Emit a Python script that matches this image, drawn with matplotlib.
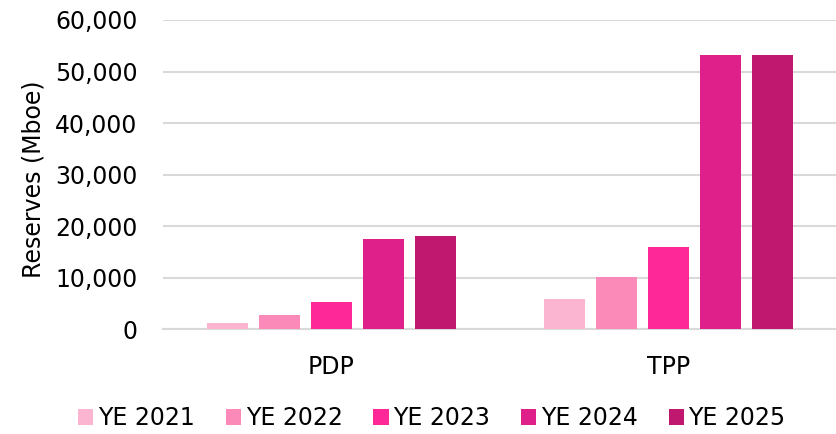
import numpy as np
import matplotlib
matplotlib.use('Agg')
import matplotlib.pyplot as plt

# dane
kategorie = ['PDP', 'TPP']
serie = ['YE 2021', 'YE 2022', 'YE 2023', 'YE 2024', 'YE 2025']
pdp = [1220, 2780, 5300, 17600, 18130]
tpp = [5890, 10160, 15930, 53200, 53250]
kolory = ['#FBB5D0', '#FC8AB8', '#FE2898', '#E0208A', '#C0186F']

plt.rcParams['font.family'] = 'DejaVu Sans'
plt.rcParams['font.size'] = 17

fig = plt.figure(figsize=(8.37, 4.34), dpi=100)
ax = fig.add_axes([0.1947, 0.2412, 0.8053, 0.7128])

x = np.arange(len(kategorie))
szer = 0.1215
krok = 0.154
for i, (nazwa, kolor) in enumerate(zip(serie, kolory)):
    wart = [pdp[i], tpp[i]]
    ax.bar(x + (i - 2) * krok, wart, width=szer, color=kolor, label=nazwa, zorder=3)

ax.set_xlim(-0.5, 1.5)
ax.set_ylim(0, 60000)
ax.set_yticks(np.arange(0, 60001, 10000))
ax.yaxis.set_major_formatter(matplotlib.ticker.FuncFormatter(lambda v, p: f'{int(v):,}'))
ax.set_xticks(x)
ax.set_xticklabels(kategorie)
ax.grid(axis='y', color='#D9D9D9', linewidth=1.5, zorder=0)
for s in ['top', 'right', 'left']:
    ax.spines[s].set_visible(False)
ax.spines['bottom'].set_color('#D9D9D9')
ax.spines['bottom'].set_linewidth(1.5)
ax.tick_params(axis='both', length=0, pad=18.5, labelcolor='black')

ax.set_ylabel('Reserves (Mboe)')
ax.yaxis.set_label_coords(-0.175, 0.485)

fig.legend(loc='center', bbox_to_anchor=(0.516, 0.037), ncol=5, frameon=False,
           handlelength=0.65, handleheight=0.65, handletextpad=0.2,
           columnspacing=1.3, borderaxespad=0, borderpad=0)

fig.savefig('out.png', dpi=100)
